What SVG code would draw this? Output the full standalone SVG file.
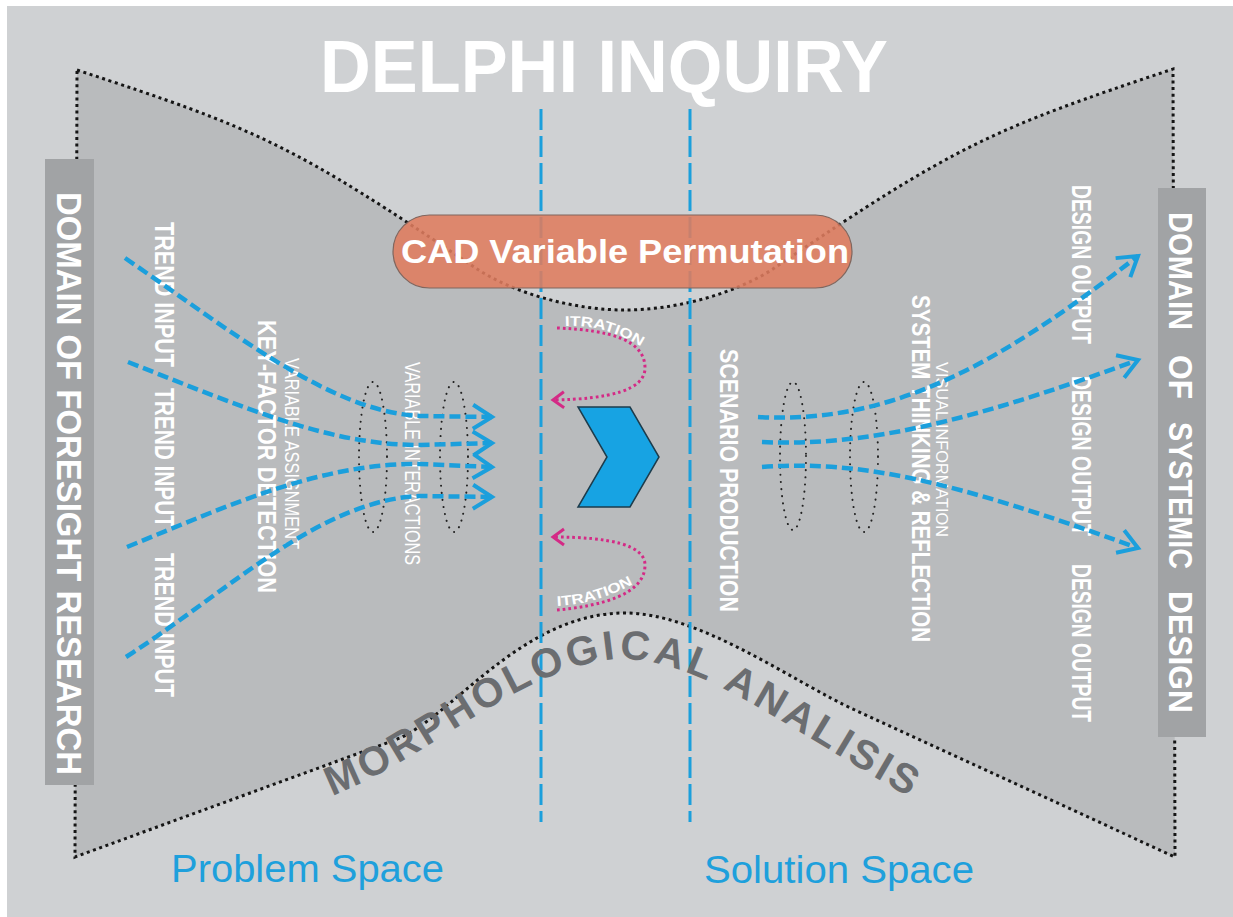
<svg xmlns="http://www.w3.org/2000/svg" width="1233" height="917" viewBox="0 0 1233 917">
<defs>
<style>
.t{font-family:"Liberation Sans",Arial,Helvetica,sans-serif;fill:#ffffff}
.b{font-weight:bold}
.flow{fill:none;stroke:#1b9fdc;stroke-width:4.5;stroke-dasharray:11 5}
.vline{fill:none;stroke:#1b9fdc;stroke-width:3;stroke-dasharray:21 6}
.iter{fill:none;stroke:#d42a86;stroke-width:3;stroke-dasharray:2.7 3}
.ell{fill:none;stroke:#222222;stroke-width:2;stroke-dasharray:0.1 7;stroke-linecap:round}
.space{font-family:"Liberation Sans",Arial,Helvetica,sans-serif;fill:#1ea0dc;font-size:38px}
</style>
<marker id="ab" markerUnits="userSpaceOnUse" viewBox="-24 -15 28 30" refX="0" refY="0" markerWidth="28" markerHeight="30" orient="auto" overflow="visible">
<path d="M-19,-12 L0,0 L-19,12" fill="none" stroke="#1b9fdc" stroke-width="4" stroke-dasharray="none"/>
</marker>
<marker id="ap" markerUnits="userSpaceOnUse" viewBox="-14 -10 16 20" refX="0" refY="0" markerWidth="16" markerHeight="20" orient="auto" overflow="visible">
<path d="M-11,-8 L0,0 L-11,8" fill="none" stroke="#d42a86" stroke-width="3" stroke-dasharray="none"/>
</marker>
<path id="mp" d="M332,796 C430,758 520,668 615,659 C700,657 780,725 925,806"/>
<path id="it1" d="M565,326 Q608,324 646,350"/>
<path id="it2" d="M557,606 Q600,604 640,580"/>
</defs>

<rect x="0" y="0" width="1233" height="917" fill="#ffffff"/>
<rect x="7" y="6" width="1226" height="911" fill="#cfd1d3"/>

<g id="hourglass">
<path d="M77,70 C257,129 294,145 474,267 C514,294 575,310 625,310 C675,310 736,294 776,267 C956,145 993,129 1173,69 L1175,857 L855,710 C795,683 700,613 625,613 C520,613 450,720 395,740 L75,857 Z" fill="#b9bbbd" stroke="#151515" stroke-width="3" stroke-dasharray="3 3.6"/>
</g>

<g id="domain-foresight">
<rect x="45" y="159" width="49" height="626" fill="#a1a3a5"/>
<text class="t b" font-size="35" textLength="583" lengthAdjust="spacingAndGlyphs" transform="translate(57,192) rotate(90)">DOMAIN OF FORESIGHT RESEARCH</text>
</g>

<g id="domain-systemic">
<rect x="1158" y="188" width="48" height="549" fill="#a1a3a5"/>
<g class="t b" font-size="33">
<text textLength="118" lengthAdjust="spacingAndGlyphs" transform="translate(1169,212) rotate(90)">DOMAIN</text>
<text textLength="44" lengthAdjust="spacingAndGlyphs" transform="translate(1169,355) rotate(90)">OF</text>
<text textLength="147" lengthAdjust="spacingAndGlyphs" transform="translate(1169,422) rotate(90)">SYSTEMIC</text>
<text textLength="122" lengthAdjust="spacingAndGlyphs" transform="translate(1169,591) rotate(90)">DESIGN</text>
</g>
</g>

<g id="title">
<text class="t b" x="320" y="92" font-size="75" textLength="568" lengthAdjust="spacingAndGlyphs">DELPHI INQUIRY</text>
</g>

<g id="labels-left" class="t">
<text class="b" font-size="27" textLength="145" lengthAdjust="spacingAndGlyphs" transform="translate(155,222) rotate(90)">TREND INPUT</text>
<text class="b" font-size="27" textLength="140" lengthAdjust="spacingAndGlyphs" transform="translate(155,388) rotate(90)">TREND INPUT</text>
<text class="b" font-size="27" textLength="144" lengthAdjust="spacingAndGlyphs" transform="translate(155,553) rotate(90)">TREND INPUT</text>
<text class="b" font-size="26" textLength="273" lengthAdjust="spacingAndGlyphs" transform="translate(258,320) rotate(90)">KEY-FACTOR DETECTION</text>
<text font-size="20" textLength="191" lengthAdjust="spacingAndGlyphs" transform="translate(285,358) rotate(90)">VARIABLE ASSIGNMENT</text>
<text font-size="22" textLength="203" lengthAdjust="spacingAndGlyphs" transform="translate(405,362) rotate(90)">VARIABLE INTERACTIONS</text>
</g>

<g id="labels-right" class="t">
<text class="b" font-size="25" textLength="263" lengthAdjust="spacingAndGlyphs" transform="translate(720,349) rotate(90)">SCENARIO PRODUCTION</text>
<text class="b" font-size="25" textLength="347" lengthAdjust="spacingAndGlyphs" transform="translate(912,295) rotate(90)">SYSTEM THINKING &amp; REFLECTION</text>
<text font-size="17" textLength="175" lengthAdjust="spacingAndGlyphs" transform="translate(936,362) rotate(90)">VISUAL INFORMATION</text>
<text class="b" font-size="27" textLength="159" lengthAdjust="spacingAndGlyphs" transform="translate(1072,185) rotate(90)">DESIGN OUTPUT</text>
<text class="b" font-size="27" textLength="160" lengthAdjust="spacingAndGlyphs" transform="translate(1072,376) rotate(90)">DESIGN OUTPUT</text>
<text class="b" font-size="27" textLength="158" lengthAdjust="spacingAndGlyphs" transform="translate(1072,564) rotate(90)">DESIGN OUTPUT</text>
</g>

<g id="space-dividers">
<line class="vline" x1="541" y1="109" x2="541" y2="822"/>
<line class="vline" x1="690" y1="109" x2="690" y2="822"/>
</g>

<g id="cad-pill">
<rect x="393" y="215" width="459" height="73" rx="36.5" fill="#df7c5f" fill-opacity="0.88" stroke="#80665e" stroke-width="1.2"/>
<text class="t b" x="401" y="263" font-size="34" textLength="448" lengthAdjust="spacingAndGlyphs">CAD Variable Permutation</text>
</g>

<g id="clusters">
<ellipse class="ell" cx="373" cy="457" rx="14" ry="75"/>
<ellipse class="ell" cx="454" cy="457" rx="14" ry="75"/>
<ellipse class="ell" cx="793" cy="456" rx="13" ry="74"/>
<ellipse class="ell" cx="864" cy="457" rx="14" ry="75"/>
</g>

<g id="connectors">
<path class="flow" marker-end="url(#ab)" d="M125,258 C230,330 330,412 420,416 L492,417"/>
<path class="flow" marker-end="url(#ab)" d="M128,362 C250,410 330,445 420,445 L492,443"/>
<path class="flow" marker-end="url(#ab)" d="M127,547 C230,505 320,463 420,464 L492,467"/>
<path class="flow" marker-end="url(#ab)" d="M126,657 C230,590 320,500 420,496 L492,497"/>
<path class="flow" marker-end="url(#ab)" d="M758,417 C900,425 1010,355 1138,256"/>
<path class="flow" marker-end="url(#ab)" d="M762,442 C880,448 1000,410 1138,360"/>
<path class="flow" marker-end="url(#ab)" d="M762,467 C860,460 950,480 1138,548"/>
<path class="iter" marker-end="url(#ap)" d="M557,328 C610,330 645,340 645,368 C645,390 610,399 553,400"/>
<path class="iter" marker-end="url(#ap)" d="M557,610 C600,606 645,595 645,565 C645,545 610,537 553,537"/>
</g>

<g id="iteration-labels" class="t b">
<text font-size="14"><textPath href="#it1" textLength="80" lengthAdjust="spacingAndGlyphs">ITRATION</textPath></text>
<text font-size="14"><textPath href="#it2" textLength="80" lengthAdjust="spacingAndGlyphs">ITRATION</textPath></text>
</g>

<g id="chevron">
<polygon points="578,407 630,407 659,457 630,507 578,507 607,457" fill="#17a3e3" stroke="#1d3c4c" stroke-width="1.5"/>
</g>

<g id="morphological">
<text font-family="Liberation Sans, Arial, sans-serif" font-weight="bold" font-size="41" fill="#6b6d70"><textPath href="#mp" textLength="645" lengthAdjust="spacing">MORPHOLOGICAL  ANALISIS</textPath></text>
</g>

<g id="space-labels">
<text class="space" x="171" y="882" textLength="273" lengthAdjust="spacingAndGlyphs">Problem Space</text>
<text class="space" x="704" y="883" textLength="270" lengthAdjust="spacingAndGlyphs">Solution Space</text>
</g>
</svg>
